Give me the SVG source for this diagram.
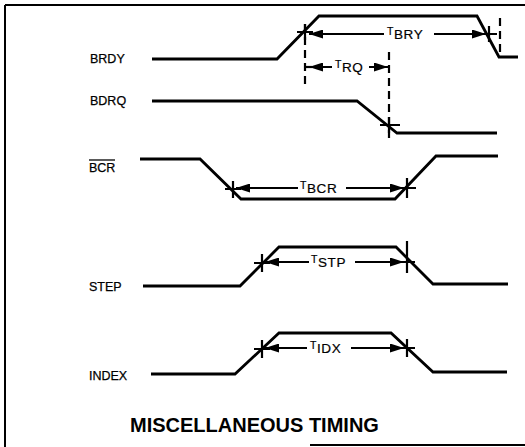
<svg xmlns="http://www.w3.org/2000/svg" width="525" height="447" viewBox="0 0 525 447">
<defs>
<marker id="ah" viewBox="0 0 14 9" refX="14" refY="4.5" markerWidth="14" markerHeight="9" markerUnits="userSpaceOnUse" orient="auto">
<path d="M0,0 L14,4.5 L0,9 Z" fill="#000"/>
</marker>
</defs>
<style>
.w{fill:none;stroke:#000;stroke-width:2.8;stroke-linejoin:miter}
.d{fill:none;stroke:#000;stroke-width:2.2;stroke-dasharray:8,5}
.a{fill:none;stroke:#000;stroke-width:2;marker-end:url(#ah)}
.x{fill:none;stroke:#000;stroke-width:2.2}
.f{stroke:#000;stroke-width:2}
.l{font-family:"Liberation Sans",Arial,sans-serif;font-size:12.5px;fill:#000;stroke:#000;stroke-width:0.25}
.t{font-family:"Liberation Sans",Arial,sans-serif;font-size:13.5px;letter-spacing:0.6px;fill:#000;stroke:#000;stroke-width:0.2}
.ts{font-size:10.5px}
.h{font-family:"Liberation Sans",Arial,sans-serif;font-size:20px;font-weight:bold;fill:#000}
</style>
<rect width="525" height="447" fill="#fff"/>
<g id="frame">
<path class="f" d="M5,5 H525 M5,5 V447 M310,445 H525" fill="none"/>
</g>
<g id="brdy">
<text class="l" x="90" y="63">BRDY</text>
<path class="w" d="M152,59 L277,59 L319,16 L477,16 L499,57 L518,57"/>
</g>
<g id="bdrq">
<text class="l" x="90" y="105">BDRQ</text>
<path class="w" d="M152,101 L357,101 L397,133 L497,133"/>
</g>
<g id="bcr">
<text class="l" x="89" y="172">BCR</text>
<line x1="89" y1="160" x2="115" y2="160" stroke="#000" stroke-width="1.3"/>
<path class="w" d="M140,159 L200,159 L241,199 L395,199 L436,156 L498,156"/>
</g>
<g id="step">
<text class="l" x="89" y="291">STEP</text>
<path class="w" d="M143,286 L240,286 L279,247 L396,247 L433,284 L508,284"/>
</g>
<g id="index">
<text class="l" x="89" y="380">INDEX</text>
<path class="w" d="M151,374 L235,374 L279,333 L391,333 L433,372 L507,372"/>
</g>
<g id="connectors">
<path class="d" d="M305,24 V88"/>
<path class="d" d="M500,18 V53"/>
<path class="d" d="M389,52 V138"/>
<path class="x" d="M297,32 H313 M305,24 V40"/>
<path class="x" d="M481,34 H497 M489,26 V42"/>
<path class="x" d="M380,125 H400 M389,117 V133"/>
<path class="x" d="M225,189 H241 M233,181 V198"/>
<path class="x" d="M399,188 H416 M407,178 V198"/>
<path class="x" d="M254,263 H270 M262,254 V272"/>
<path class="x" d="M399,262 H415 M407,241 V273"/>
<path class="x" d="M254,349 H270 M262,340 V358"/>
<path class="x" d="M399,348 H415 M407,339 V357"/>
<line class="a" x1="384" y1="34" x2="309" y2="34"/>
<line class="a" x1="434" y1="34" x2="486" y2="34"/>
<path class="x" d="M306,67 H312" stroke-width="2"/>
<line class="a" x1="332" y1="67" x2="309" y2="67"/>
<line class="a" x1="369" y1="67" x2="388" y2="67"/>
<line class="a" x1="298" y1="188" x2="236" y2="188"/>
<line class="a" x1="346" y1="188" x2="404" y2="188"/>
<line class="a" x1="309" y1="262" x2="265" y2="262"/>
<line class="a" x1="355" y1="262" x2="404" y2="262"/>
<line class="a" x1="307" y1="348" x2="265" y2="348"/>
<line class="a" x1="351" y1="348" x2="404" y2="348"/>
<text class="t" x="387" y="38.5"><tspan class="ts" dy="-4">T</tspan><tspan dy="4">BRY</tspan></text>
<text class="t" x="335" y="71.5"><tspan class="ts" dy="-4">T</tspan><tspan dy="4">RQ</tspan></text>
<text class="t" x="300" y="192.5"><tspan class="ts" dy="-4">T</tspan><tspan dy="4">BCR</tspan></text>
<text class="t" x="311" y="266.5"><tspan class="ts" dy="-4">T</tspan><tspan dy="4">STP</tspan></text>
<text class="t" x="310" y="352.5"><tspan class="ts" dy="-4">T</tspan><tspan dy="4">IDX</tspan></text>
</g>
<g id="title">
<text class="h" x="130" y="432">MISCELLANEOUS TIMING</text>
</g>
</svg>
